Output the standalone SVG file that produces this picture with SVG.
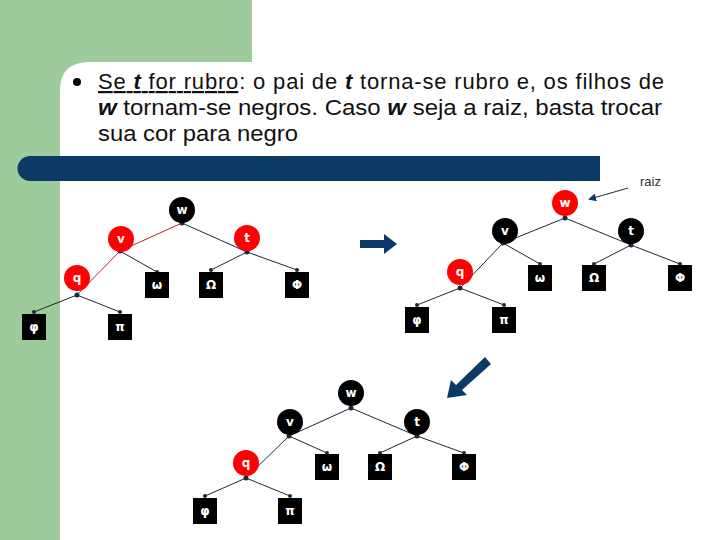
<svg xmlns="http://www.w3.org/2000/svg" width="720" height="540" viewBox="0 0 720 540">
<defs>
<style>
.t{font-family:"Liberation Sans",Arial,sans-serif;}
.n text{font-family:"DejaVu Sans",sans-serif;font-weight:bold;font-size:12px;fill:#fff;text-anchor:middle;dominant-baseline:central;}
.e line{stroke:#1a2a3a;stroke-width:1;}
.e line.r{stroke:#c0202a;}
.d{fill:#1a2a3a;}
</style>
<marker id="ah" markerWidth="8" markerHeight="8" refX="6" refY="4" orient="auto" markerUnits="userSpaceOnUse"><path d="M0,0L8,4L0,8z" fill="#0b3a66"/></marker>
</defs>
<rect width="720" height="540" fill="#fff"/>
<rect x="0" y="0" width="252" height="90" fill="#9dcb9b"/>
<rect x="0" y="0" width="60" height="540" fill="#9dcb9b"/>
<path d="M60,540 V90 Q60,62 90,62 H720 V540 Z" fill="#fff"/>
<circle cx="77" cy="82" r="4" fill="#000"/>
<text class="t" font-size="22" fill="#111" lengthAdjust="spacingAndGlyphs"><tspan x="98" y="89" textLength="566"><tspan text-decoration="underline">Se <tspan font-weight="bold" font-style="italic">t</tspan> for rubro</tspan>: o pai de <tspan font-weight="bold" font-style="italic">t</tspan> torna-se rubro e, os filhos de</tspan></text>
<text class="t" font-size="22" fill="#111" x="98" y="115" textLength="564" lengthAdjust="spacingAndGlyphs"><tspan font-weight="bold" font-style="italic">w</tspan> tornam-se negros. Caso <tspan font-weight="bold" font-style="italic">w</tspan> seja a raiz, basta trocar</text>
<text class="t" font-size="22" fill="#111" x="98" y="141" textLength="200" lengthAdjust="spacingAndGlyphs">sua cor para negro</text>
<path d="M30,156 H600 V181 H30 A12.5,12.5 0 0 1 30,156 Z" fill="#0b3a66"/>
<text class="t" x="640" y="186" font-size="13" fill="#333">raiz</text>
<g id="connectors" class="e">
<line class="r" x1="182" y1="223" x2="120" y2="251"/><line x1="182" y1="223" x2="247" y2="252"/>
<line class="r" x1="120" y1="251" x2="77" y2="295"/><line x1="120" y1="251" x2="157" y2="272"/>
<line x1="247" y1="252" x2="211" y2="270"/><line x1="247" y1="252" x2="297" y2="270"/>
<line x1="77" y1="295" x2="34" y2="312"/><line x1="77" y1="295" x2="120" y2="312"/>
<line x1="565" y1="218" x2="503" y2="243"/><line x1="565" y1="218" x2="631" y2="245"/>
<line x1="503" y1="243" x2="460" y2="288"/><line x1="503" y1="243" x2="540" y2="264"/>
<line x1="631" y1="245" x2="594" y2="264"/><line x1="631" y1="245" x2="680" y2="264"/>
<line x1="460" y1="288" x2="417" y2="305"/><line x1="460" y1="288" x2="504" y2="305"/>
<line x1="351" y1="408" x2="289" y2="436"/><line x1="351" y1="408" x2="417" y2="436"/>
<line x1="289" y1="436" x2="246" y2="478"/><line x1="289" y1="436" x2="327" y2="453"/>
<line x1="417" y1="436" x2="380" y2="453"/><line x1="417" y1="436" x2="464" y2="453"/>
<line x1="246" y1="478" x2="205" y2="496"/><line x1="246" y1="478" x2="290" y2="496"/>
<line x1="628" y1="188" x2="590" y2="199" stroke="#0b3a66" stroke-width="2.5" marker-end="url(#ah)"/>
<path d="M360,240 H384 V234 L397,244 L384,254 V248 H360 Z" fill="#0b3a66"/>
<path d="M485,357 L491,364 L462,390 L467,395 L447,398 L451,380 L456,385 Z" fill="#0b3a66"/>
</g>
<g class="d">
<circle cx="182" cy="223" r="2.5"/><circle cx="120" cy="251" r="2.5"/><circle cx="247" cy="252" r="2.5"/><circle cx="77" cy="295" r="2.5"/>
<circle cx="565" cy="218" r="2.5"/><circle cx="503" cy="243" r="2.5"/><circle cx="631" cy="245" r="2.5"/><circle cx="460" cy="288" r="2.5"/>
<circle cx="351" cy="408" r="2.5"/><circle cx="289" cy="436" r="2.5"/><circle cx="417" cy="436" r="2.5"/><circle cx="246" cy="478" r="2.5"/>
<circle cx="157" cy="272" r="2"/><circle cx="211" cy="270" r="2"/><circle cx="297" cy="270" r="2"/><circle cx="34" cy="312" r="2"/><circle cx="120" cy="312" r="2"/>
<circle cx="540" cy="264" r="2"/><circle cx="594" cy="264" r="2"/><circle cx="680" cy="264" r="2"/><circle cx="417" cy="305" r="2"/><circle cx="504" cy="305" r="2"/>
<circle cx="327" cy="453" r="2"/><circle cx="380" cy="453" r="2"/><circle cx="464" cy="453" r="2"/><circle cx="205" cy="496" r="2"/><circle cx="290" cy="496" r="2"/>
</g>
<g class="n">
<g id="t1-w"><circle cx="182" cy="210" r="13" fill="#000"/><text x="182" y="210">w</text></g>
<g id="t1-v"><circle cx="121" cy="239" r="13" fill="#f00"/><text x="121" y="239">v</text></g>
<g id="t1-t"><circle cx="247" cy="238" r="13" fill="#f00"/><text x="247" y="238">t</text></g>
<g id="t1-q"><circle cx="77" cy="278" r="13" fill="#f00"/><text x="77" y="278">q</text></g>
<g id="t1-omega"><rect x="145" y="272" width="24" height="26" fill="#000"/><text x="157" y="285">ω</text></g>
<g id="t1-Omega"><rect x="199" y="272" width="24" height="26" fill="#000"/><text x="211" y="285">Ω</text></g>
<g id="t1-Phi"><rect x="285" y="272" width="24" height="26" fill="#000"/><text x="297" y="285">Φ</text></g>
<g id="t1-phi"><rect x="22" y="314" width="24" height="26" fill="#000"/><text x="34" y="327">φ</text></g>
<g id="t1-pi"><rect x="108" y="314" width="24" height="26" fill="#000"/><text x="120" y="327">π</text></g>
<g id="t2-w"><circle cx="565" cy="203" r="13" fill="#f00"/><text x="565" y="203">w</text></g>
<g id="t2-v"><circle cx="505" cy="231" r="13" fill="#000"/><text x="505" y="231">v</text></g>
<g id="t2-t"><circle cx="631" cy="231" r="13" fill="#000"/><text x="631" y="231">t</text></g>
<g id="t2-q"><circle cx="460" cy="272" r="13" fill="#f00"/><text x="460" y="272">q</text></g>
<g id="t2-omega"><rect x="528" y="265" width="24" height="26" fill="#000"/><text x="540" y="278">ω</text></g>
<g id="t2-Omega"><rect x="582" y="265" width="24" height="26" fill="#000"/><text x="594" y="278">Ω</text></g>
<g id="t2-Phi"><rect x="668" y="265" width="24" height="26" fill="#000"/><text x="680" y="278">Φ</text></g>
<g id="t2-phi"><rect x="405" y="307" width="24" height="26" fill="#000"/><text x="417" y="320">φ</text></g>
<g id="t2-pi"><rect x="492" y="307" width="24" height="26" fill="#000"/><text x="504" y="320">π</text></g>
<g id="t3-w"><circle cx="351" cy="393" r="13" fill="#000"/><text x="351" y="393">w</text></g>
<g id="t3-v"><circle cx="290" cy="422" r="13" fill="#000"/><text x="290" y="422">v</text></g>
<g id="t3-t"><circle cx="417" cy="422" r="13" fill="#000"/><text x="417" y="422">t</text></g>
<g id="t3-q"><circle cx="246" cy="463" r="13" fill="#f00"/><text x="246" y="463">q</text></g>
<g id="t3-omega"><rect x="315" y="454" width="24" height="26" fill="#000"/><text x="327" y="467">ω</text></g>
<g id="t3-Omega"><rect x="368" y="454" width="24" height="26" fill="#000"/><text x="380" y="467">Ω</text></g>
<g id="t3-Phi"><rect x="452" y="454" width="24" height="26" fill="#000"/><text x="464" y="467">Φ</text></g>
<g id="t3-phi"><rect x="193" y="498" width="24" height="26" fill="#000"/><text x="205" y="511">φ</text></g>
<g id="t3-pi"><rect x="278" y="498" width="24" height="26" fill="#000"/><text x="290" y="511">π</text></g>
</g>
</svg>
